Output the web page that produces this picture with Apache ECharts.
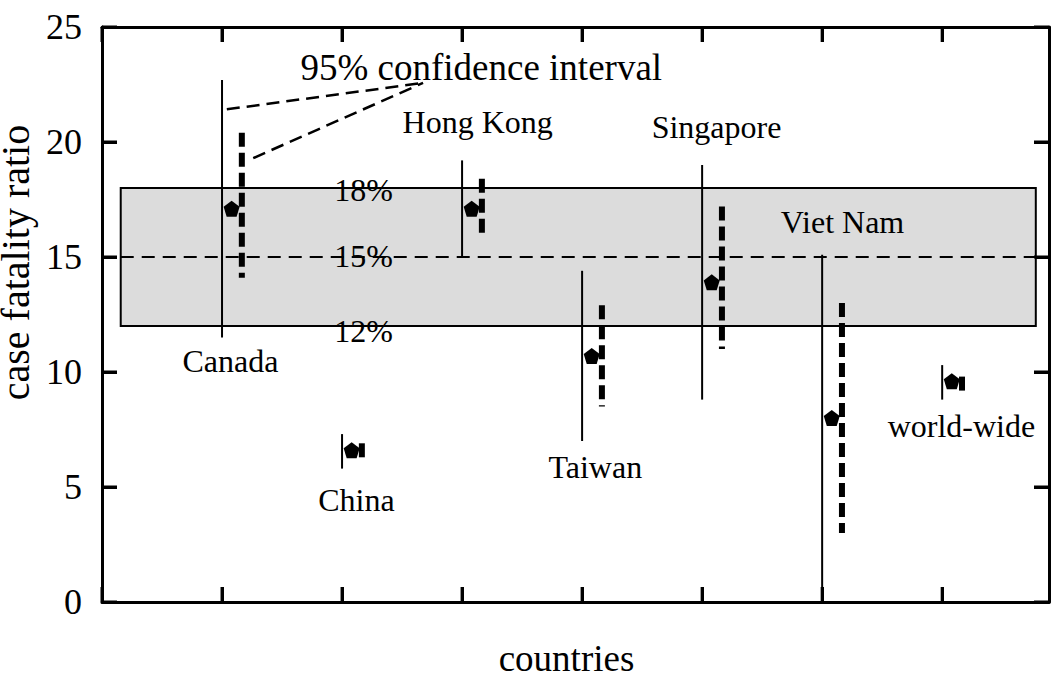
<!DOCTYPE html>
<html><head><meta charset="utf-8">
<script src="https://cdn.jsdelivr.net/npm/echarts@6/dist/echarts.min.js"></script>
<style>html,body{margin:0;padding:0;background:#fff}#c{width:1052px;height:680px}</style>
</head><body><div id="c"></div>
<script>
// ---- data ----
const countries = ['Canada', 'China', 'Hong Kong', 'Taiwan', 'Singapore', 'Viet Nam', 'world-wide'];
const countryX = [1, 2, 3, 4, 5, 6, 7];
const rangeLow = [11.5, 5.8, 15.0, 7.0, 8.8, 0, 8.8];
const rangeHigh = [22.7, 7.3, 19.2, 14.4, 19.0, 15.1, 10.3];
const cfr = [17.1, 6.6, 17.1, 10.7, 13.9, 8.0, 9.6];
const ciLow = [14.1, 6.1, 16.0, 8.5, 11.0, 3.0, 9.1];
const ciHigh = [20.4, 6.9, 18.4, 12.9, 17.2, 13.0, 9.8];
const countryLabelX = [1.07, 2.12, 3.13, 4.11, 5.12, 6.17, 7.16];
const countryLabelY = [10.48, 4.43, 20.85, 5.87, 20.67, 16.53, 7.65];
const bandLow = 12, bandMid = 15, bandHigh = 18;
const bandX = [0.156, 7.78];
const bandLabels = ['18%', '15%', '12%'];
const bandLabelX = 2.18;
const bandLabelY = [17.93, 15.05, 11.8];
const annotationText = '95% confidence interval';
const annotationPos = [3.16, 23.24];
const annoLine1 = [[1.04, 21.42], [2.675, 22.57]];
const annoLine2 = [[1.26, 19.3], [2.675, 22.57]];
const yMin = 0, yMax = 25, yStep = 5;
const xMin = 0, xMax = 7.89, xStep = 1;
const xTickValues = [0, 1, 2, 3, 4, 5, 6, 7];
const yTickValues = [0, 5, 10, 15, 20, 25];
const xTitle = 'countries';
const yTitle = 'case fatality ratio';

const FONT = 'Liberation Serif';
const pointOffset = 0.08, ciOffset = 0.165;
const TICK = 15;

function vline(width, dash) {
  return function (params, api) {
    const x = api.value(0), lo = api.value(1), hi = api.value(2);
    const p1 = api.coord([x, hi]), p2 = api.coord([x, lo]);
    return {
      type: 'line',
      shape: { x1: p1[0], y1: p1[1], x2: p2[0], y2: p2[1] },
      style: { stroke: '#000', lineWidth: width, lineDash: dash, fill: null }
    };
  };
}

// inward tick marks on all four sides, positioned through the axes' scales
function tickMarks(params, api) {
  const kind = api.value(0), v = api.value(1);
  const seg = (a, b) => ({ type: 'line', shape: { x1: a[0], y1: a[1], x2: b[0], y2: b[1] }, style: { stroke: '#000', lineWidth: 3 } });
  let children;
  if (kind === 0) {
    const b = api.coord([v, yMin]), t = api.coord([v, yMax]);
    children = [seg(b, [b[0], b[1] - TICK]), seg(t, [t[0], t[1] + TICK])];
  } else {
    const l = api.coord([xMin, v]), r = api.coord([xMax, v]);
    children = [seg(l, [l[0] + TICK, l[1]]), seg(r, [r[0] - TICK, r[1]])];
  }
  return { type: 'group', children };
}

const rangeData = countryX.map((x, i) => [x, rangeLow[i], rangeHigh[i]]);
const ciData = countryX.map((x, i) => [x + ciOffset, ciLow[i], ciHigh[i]]);
const pointData = countryX.map((x, i) => [x + pointOffset, cfr[i]]);
const labelData = countries.map((n, i) => [countryLabelX[i], countryLabelY[i], n]);
bandLabels.forEach((t, i) => labelData.push([bandLabelX, bandLabelY[i], t]));
const tickData = xTickValues.map(v => [0, v]).concat(yTickValues.map(v => [1, v]));

function axisCommon() {
  return {
    type: 'value', splitLine: { show: false },
    axisLine: { show: true, onZero: false, lineStyle: { color: '#000', width: 3 } },
    axisTick: { show: true, inside: true, length: TICK, lineStyle: { color: '#000', width: 3 } }
  };
}

const textLabel = (size) => ({
  show: true, position: 'inside', formatter: p => p.value[2],
  fontFamily: FONT, fontSize: size, color: '#000', textBorderWidth: 0, opacity: 1
});

const chart = echarts.init(document.getElementById('c'), null, { renderer: 'svg' });
chart.setOption({
  animation: false,
  grid: { left: 102, top: 27, width: 947, height: 575, containLabel: false, outerBoundsMode: 'none' },
  xAxis: [
    Object.assign(axisCommon(), {
      position: 'bottom', min: xMin, max: xMax, interval: xStep,
      axisLabel: { show: false },
      name: xTitle, nameLocation: 'middle', nameGap: 38,
      nameTextStyle: { fontFamily: FONT, fontSize: 37, color: '#000', padding: [0, 18, 0, 0] }
    }),
    Object.assign(axisCommon(), {
      position: 'top', min: xMin, max: xMax, interval: xStep, axisLabel: { show: false }
    })
  ],
  yAxis: [
    Object.assign(axisCommon(), {
      position: 'left', min: yMin, max: yMax, interval: yStep,
      axisLabel: { show: true, margin: 20, fontFamily: FONT, fontSize: 36, color: '#000' },
      name: yTitle, nameLocation: 'middle', nameRotate: 90, nameGap: 58,
      nameTextStyle: { fontFamily: FONT, fontSize: 40, color: '#000', padding: [0, 0, 0, 104] }
    }),
    Object.assign(axisCommon(), {
      position: 'right', min: yMin, max: yMax, interval: yStep, axisLabel: { show: false }
    })
  ],
  series: [
    {
      type: 'line', data: [[bandX[0], bandMid], [bandX[1], bandMid]], symbol: 'none',
      lineStyle: { color: '#000', width: 2, type: [13, 8] }, z: 3,
      markArea: {
        silent: true,
        itemStyle: { color: '#dcdcdc', borderColor: '#000', borderWidth: 2 },
        data: [[{ coord: [bandX[0], bandHigh] }, { coord: [bandX[1], bandLow] }]]
      }
    },
    { type: 'custom', renderItem: vline(2, null), data: rangeData, z: 4 },
    { type: 'custom', renderItem: vline(6, [14, 6]), data: ciData, z: 4 },
    { type: 'custom', renderItem: tickMarks, data: tickData, z: 7, silent: true },
    {
      type: 'scatter', data: pointData, z: 5,
      symbol: 'path://M0,-10 L9.5,-3.1 L5.9,8.1 L-5.9,8.1 L-9.5,-3.1 Z',
      symbolSize: 16, itemStyle: { color: '#000', opacity: 1 }
    },
    { type: 'line', data: annoLine1, symbol: 'none', lineStyle: { color: '#000', width: 2.5, type: [13, 7] }, z: 4 },
    { type: 'line', data: annoLine2, symbol: 'none', lineStyle: { color: '#000', width: 2.5, type: [13, 7] }, z: 4 },
    { type: 'scatter', data: labelData, symbolSize: 0, z: 6, itemStyle: { opacity: 1 }, label: textLabel(32) },
    {
      type: 'scatter', data: [[annotationPos[0], annotationPos[1], annotationText]],
      symbolSize: 0, z: 6, itemStyle: { opacity: 1 }, label: textLabel(37)
    }
  ]
});
</script></body></html>
